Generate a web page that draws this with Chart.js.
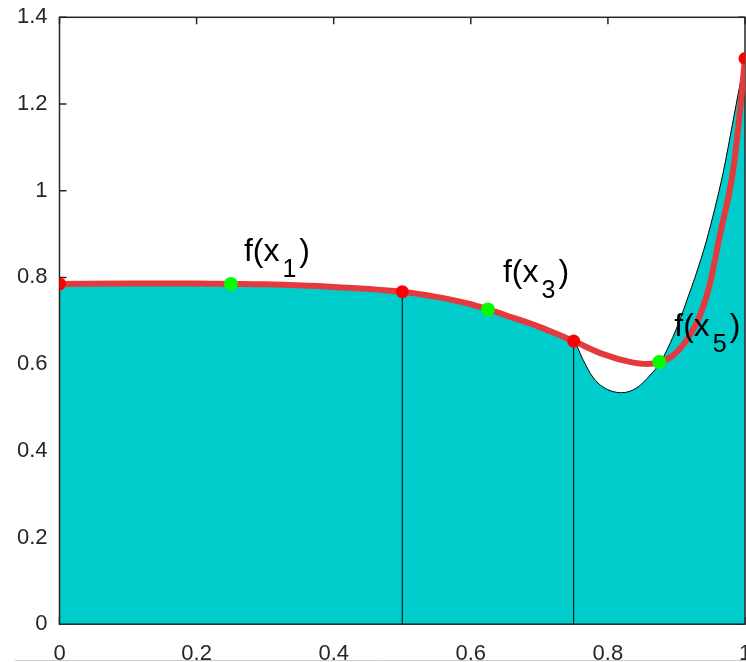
<!DOCTYPE html>
<html><head><meta charset="utf-8">
<script src="https://cdn.jsdelivr.net/npm/chart.js@4.4.0/dist/chart.umd.min.js"></script>
<style>html,body{margin:0;padding:0;background:#fff;overflow:hidden}#wrap{width:746px;height:662px;position:relative}</style>
</head><body><div id="wrap"><canvas id="c" width="746" height="662"></canvas></div>
<script>
// true function f(x) (black curve, filled)
const curveX = [0, 0.1, 0.2, 0.25, 0.3, 0.4, 0.5, 0.55, 0.6, 0.625, 0.65, 0.7, 0.725, 0.74, 0.752, 0.764, 0.778, 0.793, 0.82, 0.842, 0.862, 0.877, 0.891, 0.905, 0.917, 0.927, 0.944, 0.968, 0.982, 0.993, 1.0];
const curveY = [0.785, 0.786, 0.786, 0.785, 0.784, 0.778, 0.767, 0.755, 0.738, 0.726, 0.713, 0.686, 0.668, 0.659, 0.649, 0.609, 0.570, 0.547, 0.534, 0.545, 0.575, 0.605, 0.649, 0.702, 0.755, 0.800, 0.886, 1.041, 1.156, 1.248, 1.305];
// interpolating curve (red)
const interpX = [0, 0.1, 0.2, 0.25, 0.3, 0.4, 0.5, 0.55, 0.6, 0.625, 0.65, 0.7, 0.725, 0.75, 0.793, 0.832, 0.857, 0.877, 0.895, 0.915, 0.934, 0.949, 0.963, 0.983, 0.993, 1.0];
const interpY = [0.785, 0.786, 0.786, 0.785, 0.784, 0.778, 0.767, 0.755, 0.738, 0.726, 0.713, 0.686, 0.670, 0.653, 0.623, 0.605, 0.600, 0.605, 0.620, 0.656, 0.711, 0.787, 0.895, 1.050, 1.190, 1.305];
// nodes (red) and midpoints (green)
const nodeX = [0, 0.5, 0.75, 1];
const nodeY = [0.785, 0.767, 0.653, 1.305];
const midX = [0.25, 0.625, 0.875];
const midY = [0.785, 0.726, 0.605];
const midSub = ['1', '3', '5'];
const xTicks = [0, 0.2, 0.4, 0.6, 0.8, 1];
const yTicks = [0, 0.2, 0.4, 0.6, 0.8, 1, 1.2, 1.4];

const pts = (xs, ys) => xs.map((x, i) => ({x: x, y: ys[i]}));
const AX = 'rgb(38,38,38)';
const FONT = '"Liberation Sans", Arial, Helvetica, sans-serif';
const noPad = () => ({left: 0, top: 0, right: 0, bottom: 0});

const vlines = [1, 2].map(i => ({
  data: [{x: nodeX[i], y: 0}, {x: nodeX[i], y: nodeY[i]}],
  showLine: true, borderColor: '#000', borderWidth: 1, pointRadius: 0, fill: false, order: 4
}));

const decor = {
  id: 'decor',
  beforeDatasetsDraw(chart) {
    const {ctx, chartArea: a, scales: {x, y}} = chart;
    ctx.save();
    ctx.strokeStyle = AX; ctx.lineWidth = 1.5;
    ctx.beginPath();
    yTicks.forEach(v => { const p = y.getPixelForValue(v); ctx.moveTo(a.left, p); ctx.lineTo(a.left + 7, p); ctx.moveTo(a.right, p); ctx.lineTo(a.right - 7, p); });
    xTicks.forEach(v => { const p = x.getPixelForValue(v); ctx.moveTo(p, a.top); ctx.lineTo(p, a.top + 7); ctx.moveTo(p, a.bottom); ctx.lineTo(p, a.bottom - 7); });
    ctx.stroke();
    ctx.restore();
  },
  afterDatasetDraw(chart, args) {
    if (args.index !== 0) return;
    const {ctx, chartArea: a} = chart;
    ctx.save();
    ctx.strokeStyle = AX; ctx.lineWidth = 1.5;
    ctx.strokeRect(a.left, a.top, a.right - a.left, a.bottom - a.top);
    ctx.restore();
  },
  afterDraw(chart) {
    const {ctx, scales: {x, y}} = chart;
    ctx.save();
    ctx.fillStyle = '#000';
    ctx.textBaseline = 'alphabetic';
    const offX = [13, 15, 15], offY = [-23, -27, -26];
    midX.forEach((mx, i) => {
      const px = x.getPixelForValue(mx) + offX[i];
      const py = y.getPixelForValue(midY[i]) + offY[i];
      ctx.font = '32px ' + FONT;
      ctx.fillText('f(x', px, py);
      const w1 = ctx.measureText('f(x').width;
      ctx.font = '25px ' + FONT;
      ctx.fillText(midSub[i], px + w1 + 3, py + 16);
      const w2 = ctx.measureText(midSub[i]).width;
      ctx.font = '32px ' + FONT;
      ctx.fillText(')', px + w1 + 3 + w2 + 3, py);
    });
    ctx.strokeStyle = '#cccccc'; ctx.lineWidth = 1;
    ctx.beginPath(); ctx.moveTo(15, 660.5); ctx.lineTo(746, 660.5); ctx.stroke();
    ctx.restore();
  }
};

new Chart(document.getElementById('c'), {
  type: 'scatter',
  data: {
    datasets: [
      { data: pts(curveX, curveY), showLine: true, fill: 'origin', backgroundColor: 'rgb(0,204,204)',
        borderColor: '#000', borderWidth: 1, pointRadius: 0, cubicInterpolationMode: 'monotone', order: 5 },
      ...vlines,
      { data: pts(interpX, interpY), showLine: true, fill: false, borderColor: 'rgb(229,58,61)',
        borderWidth: 6, pointRadius: 0, cubicInterpolationMode: 'monotone', order: 3 },
      { data: pts(nodeX, nodeY), showLine: false, pointRadius: 6.5, pointBackgroundColor: '#ff0000',
        pointBorderWidth: 0, pointBorderColor: '#ff0000', order: 2 },
      { data: pts(midX, midY), showLine: false, pointRadius: 7, pointBackgroundColor: '#00ff00',
        pointBorderWidth: 0, pointBorderColor: '#00ff00', order: 1 }
    ]
  },
  options: {
    responsive: false, devicePixelRatio: 1, animation: false,
    layout: { autoPadding: false, padding: { top: 17.3, right: 1, left: 0, bottom: 0 } },
    plugins: { legend: { display: false }, tooltip: { enabled: false } },
    scales: {
      x: {
        type: 'linear', min: 0, max: 1,
        afterBuildTicks: s => { s.ticks = xTicks.map(v => ({value: v})); },
        afterFit: s => { s.height = 37.8; s.paddingLeft = 0; s.paddingRight = 0; s.getPadding = noPad; },
        grid: { display: false, drawTicks: false }, border: { display: false },
        ticks: { color: AX, font: { size: 22, family: FONT }, padding: 17, maxRotation: 0, autoSkip: false,
          callback: v => String(v) }
      },
      y: {
        type: 'linear', min: 0, max: 1.4,
        afterBuildTicks: s => { s.ticks = yTicks.map(v => ({value: v})); },
        afterFit: s => { s.width = 59.5; s.paddingTop = 0; s.paddingBottom = 0; s.getPadding = noPad; },
        grid: { display: false, drawTicks: false }, border: { display: false },
        ticks: { color: AX, font: { size: 22, family: FONT }, padding: 12, autoSkip: false,
          callback: v => String(v) }
      }
    }
  },
  plugins: [decor]
});
</script></body></html>
